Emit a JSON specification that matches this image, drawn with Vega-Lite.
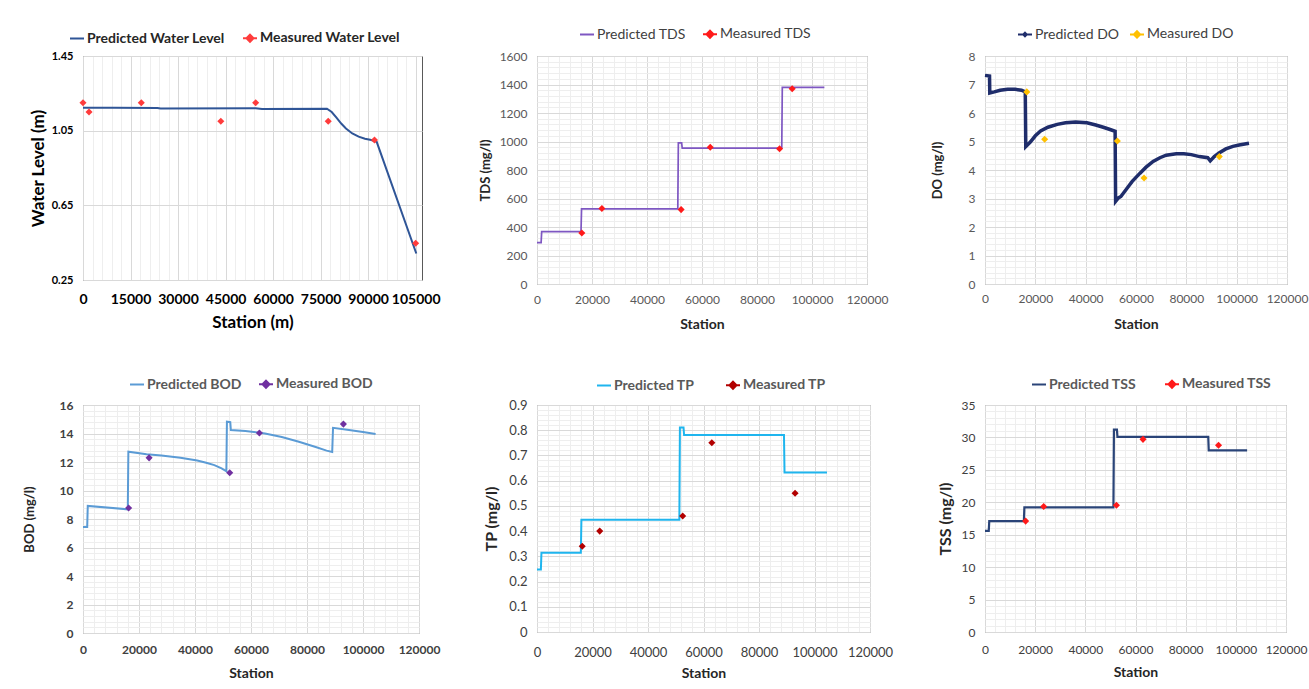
{
  "$schema": "https://vega.github.io/schema/vega-lite/v6.json",
  "background": "white",
  "padding": {"left": 22, "top": 25, "right": 5, "bottom": 5},
  "config": {
    "font": "Lato",
    "axis": {"ticks": false, "domain": false, "gridColor": "#d9d9d9", "labelFont": "Lato", "titleFont": "Lato", "labelFlush": false, "labelOverlap": false},
    "legend": {"labelFont": "Lato"}
  },
  "datasets": {
    "wl": [
      {"station": 0, "value": 1.173, "series": "Predicted Water Level"},
      {"station": 10000, "value": 1.173, "series": "Predicted Water Level"},
      {"station": 23500, "value": 1.172, "series": "Predicted Water Level"},
      {"station": 24500, "value": 1.169, "series": "Predicted Water Level"},
      {"station": 54500, "value": 1.170, "series": "Predicted Water Level"},
      {"station": 56500, "value": 1.166, "series": "Predicted Water Level"},
      {"station": 77000, "value": 1.168, "series": "Predicted Water Level"},
      {"station": 78500, "value": 1.150, "series": "Predicted Water Level"},
      {"station": 80000, "value": 1.120, "series": "Predicted Water Level"},
      {"station": 81500, "value": 1.088, "series": "Predicted Water Level"},
      {"station": 83000, "value": 1.062, "series": "Predicted Water Level"},
      {"station": 85000, "value": 1.035, "series": "Predicted Water Level"},
      {"station": 87000, "value": 1.018, "series": "Predicted Water Level"},
      {"station": 89000, "value": 1.007, "series": "Predicted Water Level"},
      {"station": 91000, "value": 1.000, "series": "Predicted Water Level"},
      {"station": 92700, "value": 0.990, "series": "Predicted Water Level"},
      {"station": 105200, "value": 0.392, "series": "Predicted Water Level"},
      {"station": 0, "value": 1.20, "series": "Measured Water Level"},
      {"station": 1900, "value": 1.15, "series": "Measured Water Level"},
      {"station": 18400, "value": 1.20, "series": "Measured Water Level"},
      {"station": 43500, "value": 1.10, "series": "Measured Water Level"},
      {"station": 54500, "value": 1.20, "series": "Measured Water Level"},
      {"station": 77400, "value": 1.10, "series": "Measured Water Level"},
      {"station": 92000, "value": 1.00, "series": "Measured Water Level"},
      {"station": 105000, "value": 0.447, "series": "Measured Water Level"}
    ],
    "tds": [
      {"station": 0, "value": 290, "series": "Predicted TDS"},
      {"station": 1500, "value": 290, "series": "Predicted TDS"},
      {"station": 1700, "value": 367, "series": "Predicted TDS"},
      {"station": 16000, "value": 367, "series": "Predicted TDS"},
      {"station": 16200, "value": 527, "series": "Predicted TDS"},
      {"station": 51200, "value": 527, "series": "Predicted TDS"},
      {"station": 51400, "value": 990, "series": "Predicted TDS"},
      {"station": 52600, "value": 990, "series": "Predicted TDS"},
      {"station": 52800, "value": 953, "series": "Predicted TDS"},
      {"station": 89000, "value": 953, "series": "Predicted TDS"},
      {"station": 89200, "value": 1380, "series": "Predicted TDS"},
      {"station": 104500, "value": 1380, "series": "Predicted TDS"},
      {"station": 16300, "value": 358, "series": "Measured TDS"},
      {"station": 23600, "value": 530, "series": "Measured TDS"},
      {"station": 52400, "value": 522, "series": "Measured TDS"},
      {"station": 63000, "value": 960, "series": "Measured TDS"},
      {"station": 88200, "value": 949, "series": "Measured TDS"},
      {"station": 92800, "value": 1370, "series": "Measured TDS"}
    ],
    "do": [
      {"station": 0, "value": 7.32, "series": "Predicted DO"},
      {"station": 1800, "value": 7.30, "series": "Predicted DO"},
      {"station": 1900, "value": 6.70, "series": "Predicted DO"},
      {"station": 3700, "value": 6.74, "series": "Predicted DO"},
      {"station": 6000, "value": 6.80, "series": "Predicted DO"},
      {"station": 9000, "value": 6.83, "series": "Predicted DO"},
      {"station": 12000, "value": 6.83, "series": "Predicted DO"},
      {"station": 14500, "value": 6.80, "series": "Predicted DO"},
      {"station": 16000, "value": 6.74, "series": "Predicted DO"},
      {"station": 16200, "value": 4.82, "series": "Predicted DO"},
      {"station": 18000, "value": 4.98, "series": "Predicted DO"},
      {"station": 20000, "value": 5.20, "series": "Predicted DO"},
      {"station": 22100, "value": 5.37, "series": "Predicted DO"},
      {"station": 25000, "value": 5.50, "series": "Predicted DO"},
      {"station": 28700, "value": 5.60, "series": "Predicted DO"},
      {"station": 32000, "value": 5.66, "series": "Predicted DO"},
      {"station": 36000, "value": 5.68, "series": "Predicted DO"},
      {"station": 40500, "value": 5.66, "series": "Predicted DO"},
      {"station": 44000, "value": 5.58, "series": "Predicted DO"},
      {"station": 47000, "value": 5.50, "series": "Predicted DO"},
      {"station": 49700, "value": 5.42, "series": "Predicted DO"},
      {"station": 51700, "value": 5.36, "series": "Predicted DO"},
      {"station": 51900, "value": 2.90, "series": "Predicted DO"},
      {"station": 53000, "value": 3.02, "series": "Predicted DO"},
      {"station": 54000, "value": 3.07, "series": "Predicted DO"},
      {"station": 56300, "value": 3.34, "series": "Predicted DO"},
      {"station": 58500, "value": 3.60, "series": "Predicted DO"},
      {"station": 61500, "value": 3.88, "series": "Predicted DO"},
      {"station": 64000, "value": 4.10, "series": "Predicted DO"},
      {"station": 66800, "value": 4.30, "series": "Predicted DO"},
      {"station": 69500, "value": 4.43, "series": "Predicted DO"},
      {"station": 72000, "value": 4.52, "series": "Predicted DO"},
      {"station": 76000, "value": 4.57, "series": "Predicted DO"},
      {"station": 79000, "value": 4.57, "series": "Predicted DO"},
      {"station": 82000, "value": 4.54, "series": "Predicted DO"},
      {"station": 85200, "value": 4.47, "series": "Predicted DO"},
      {"station": 88500, "value": 4.43, "series": "Predicted DO"},
      {"station": 89500, "value": 4.32, "series": "Predicted DO"},
      {"station": 91100, "value": 4.47, "series": "Predicted DO"},
      {"station": 93000, "value": 4.60, "series": "Predicted DO"},
      {"station": 95700, "value": 4.74, "series": "Predicted DO"},
      {"station": 98500, "value": 4.83, "series": "Predicted DO"},
      {"station": 101000, "value": 4.88, "series": "Predicted DO"},
      {"station": 104900, "value": 4.94, "series": "Predicted DO"},
      {"station": 16600, "value": 6.74, "series": "Measured DO"},
      {"station": 23700, "value": 5.08, "series": "Measured DO"},
      {"station": 52600, "value": 5.02, "series": "Measured DO"},
      {"station": 63200, "value": 3.72, "series": "Measured DO"},
      {"station": 93100, "value": 4.47, "series": "Measured DO"}
    ],
    "bod": [
      {"station": 0, "value": 7.44, "series": "Predicted BOD"},
      {"station": 1500, "value": 7.44, "series": "Predicted BOD"},
      {"station": 1700, "value": 8.92, "series": "Predicted BOD"},
      {"station": 16000, "value": 8.68, "series": "Predicted BOD"},
      {"station": 16200, "value": 12.72, "series": "Predicted BOD"},
      {"station": 22700, "value": 12.55, "series": "Predicted BOD"},
      {"station": 28000, "value": 12.45, "series": "Predicted BOD"},
      {"station": 34800, "value": 12.30, "series": "Predicted BOD"},
      {"station": 40800, "value": 12.10, "series": "Predicted BOD"},
      {"station": 44000, "value": 11.95, "series": "Predicted BOD"},
      {"station": 46900, "value": 11.78, "series": "Predicted BOD"},
      {"station": 49500, "value": 11.55, "series": "Predicted BOD"},
      {"station": 51200, "value": 11.35, "series": "Predicted BOD"},
      {"station": 51400, "value": 14.83, "series": "Predicted BOD"},
      {"station": 52600, "value": 14.80, "series": "Predicted BOD"},
      {"station": 52800, "value": 14.24, "series": "Predicted BOD"},
      {"station": 58000, "value": 14.18, "series": "Predicted BOD"},
      {"station": 65000, "value": 14.00, "series": "Predicted BOD"},
      {"station": 71000, "value": 13.75, "series": "Predicted BOD"},
      {"station": 77100, "value": 13.42, "series": "Predicted BOD"},
      {"station": 83100, "value": 13.05, "series": "Predicted BOD"},
      {"station": 87000, "value": 12.80, "series": "Predicted BOD"},
      {"station": 89000, "value": 12.70, "series": "Predicted BOD"},
      {"station": 89300, "value": 14.40, "series": "Predicted BOD"},
      {"station": 95000, "value": 14.25, "series": "Predicted BOD"},
      {"station": 100000, "value": 14.10, "series": "Predicted BOD"},
      {"station": 104500, "value": 13.96, "series": "Predicted BOD"},
      {"station": 16300, "value": 8.77, "series": "Measured BOD"},
      {"station": 23600, "value": 12.29, "series": "Measured BOD"},
      {"station": 52400, "value": 11.24, "series": "Measured BOD"},
      {"station": 63000, "value": 14.03, "series": "Measured BOD"},
      {"station": 93000, "value": 14.66, "series": "Measured BOD"}
    ],
    "tp": [
      {"station": 0, "value": 0.248, "series": "Predicted TP"},
      {"station": 1400, "value": 0.248, "series": "Predicted TP"},
      {"station": 1600, "value": 0.314, "series": "Predicted TP"},
      {"station": 15800, "value": 0.314, "series": "Predicted TP"},
      {"station": 16000, "value": 0.445, "series": "Predicted TP"},
      {"station": 51300, "value": 0.445, "series": "Predicted TP"},
      {"station": 51500, "value": 0.811, "series": "Predicted TP"},
      {"station": 52800, "value": 0.811, "series": "Predicted TP"},
      {"station": 53000, "value": 0.781, "series": "Predicted TP"},
      {"station": 89000, "value": 0.781, "series": "Predicted TP"},
      {"station": 89200, "value": 0.632, "series": "Predicted TP"},
      {"station": 104500, "value": 0.632, "series": "Predicted TP"},
      {"station": 16300, "value": 0.34, "series": "Measured TP"},
      {"station": 22600, "value": 0.40, "series": "Measured TP"},
      {"station": 52500, "value": 0.46, "series": "Measured TP"},
      {"station": 63000, "value": 0.75, "series": "Measured TP"},
      {"station": 93000, "value": 0.55, "series": "Measured TP"}
    ],
    "tss": [
      {"station": 0, "value": 15.6, "series": "Predicted TSS"},
      {"station": 1500, "value": 15.6, "series": "Predicted TSS"},
      {"station": 1700, "value": 17.1, "series": "Predicted TSS"},
      {"station": 15500, "value": 17.1, "series": "Predicted TSS"},
      {"station": 15700, "value": 19.2, "series": "Predicted TSS"},
      {"station": 51200, "value": 19.2, "series": "Predicted TSS"},
      {"station": 51400, "value": 31.2, "series": "Predicted TSS"},
      {"station": 52600, "value": 31.2, "series": "Predicted TSS"},
      {"station": 52800, "value": 30.1, "series": "Predicted TSS"},
      {"station": 89000, "value": 30.1, "series": "Predicted TSS"},
      {"station": 89200, "value": 28.0, "series": "Predicted TSS"},
      {"station": 104500, "value": 28.0, "series": "Predicted TSS"},
      {"station": 16200, "value": 17.1, "series": "Measured TSS"},
      {"station": 23400, "value": 19.35, "series": "Measured TSS"},
      {"station": 52400, "value": 19.55, "series": "Measured TSS"},
      {"station": 63000, "value": 29.7, "series": "Measured TSS"},
      {"station": 93100, "value": 28.8, "series": "Measured TSS"}
    ]
  },
  "columns": 3,
  "align": "none",
  "bounds": "flush",
  "spacing": {"row": 121, "column": 115},
  "resolve": {"scale": {"x": "independent", "y": "independent", "color": "independent"}, "legend": {"color": "independent"}, "axis": {"x": "independent", "y": "independent"}},
  "concat": [
    {
      "width": 339, "height": 224,
      "view": {"stroke": "#595959"},
      "data": {"name": "wl"},
      "layer": [
        {
          "mark": {"type": "line", "strokeWidth": 2},
          "transform": [{"filter": "datum.series === 'Predicted Water Level'"}],
          "encoding": {
            "x": {"field": "station", "type": "quantitative", "scale": {"domain": [0, 107000], "nice": false},
              "axis": {"values": [0, 15000, 30000, 45000, 60000, 75000, 90000, 105000], "format": "d", "labelFontSize": 14, "labelFontWeight": "bold", "labelColor": "#000000", "labelPadding": 12, "title": "Station (m)", "titleFontSize": 17, "titleFontWeight": "bold", "titleColor": "#000000", "titlePadding": 7, "minExtent": 27, "maxExtent": 27}},
            "y": {"field": "value", "type": "quantitative", "scale": {"domain": [0.25, 1.45], "nice": false, "zero": false},
              "axis": {"values": [0.25, 0.65, 1.05, 1.45], "format": ".2f", "labelFontSize": 11, "labelFontWeight": "bold", "labelColor": "#000000", "labelPadding": 10, "title": "Water Level (m)", "titleFontSize": 17, "titleFontWeight": "bold", "titleColor": "#000000", "titlePadding": 6, "minExtent": 30, "maxExtent": 30}},
            "color": {"field": "series", "type": "nominal", "scale": {"domain": ["Predicted Water Level", "Measured Water Level"], "range": ["#2f5597", "#ff3c3c"]},
              "legend": {"orient": "none", "legendX": -14, "legendY": -26, "direction": "horizontal", "title": null, "labelFontSize": 14, "labelFontWeight": "bold", "labelColor": "#262626", "columnPadding": 14, "labelOffset": 2, "symbolSize": 196, "symbolStrokeWidth": 2,
                "encode": {"symbols": {"update": {
                  "shape": {"signal": "datum.index === 0 ? 'M-1,0L1,0' : 'M-1,0L1,0M0,-0.5L0.5,0L0,0.5L-0.5,0Z'"},
                  "fill": {"signal": "datum.index === 0 ? '#2f5597' : '#ff3c3c'"},
                  "stroke": {"signal": "datum.index === 0 ? '#2f5597' : '#ff3c3c'"},
                  "strokeWidth": {"value": 2}, "size": {"value": 196}, "opacity": {"value": 1}}}}}}
          }
        },
        {
          "mark": {"type": "point", "shape": "diamond", "filled": true, "size": 50, "opacity": 1},
          "transform": [{"filter": "datum.series === 'Measured Water Level'"}],
          "encoding": {
            "x": {"field": "station", "type": "quantitative",
              "axis": {"orient": "bottom", "values": [3000, 6000, 9000, 12000, 18000, 21000, 24000, 27000, 33000, 36000, 39000, 42000, 48000, 51000, 54000, 57000, 63000, 66000, 69000, 72000, 78000, 81000, 84000, 87000, 93000, 96000, 99000, 102000], "labels": false, "grid": true, "gridColor": "#eeeeee", "title": null}},
            "y": {"field": "value", "type": "quantitative", "axis": null},
            "color": {"field": "series", "type": "nominal"}
          }
        }
      ],
      "resolve": {"axis": {"x": "independent", "y": "independent"}}
    },
    {
      "width": 330, "height": 228,
      "view": {"stroke": "#7f7f7f"},
      "data": {"name": "tds"},
      "layer": [
        {
          "mark": {"type": "line", "strokeWidth": 1.7},
          "transform": [{"filter": "datum.series === 'Predicted TDS'"}],
          "encoding": {
            "x": {"field": "station", "type": "quantitative", "scale": {"domain": [0, 120000], "nice": false},
              "axis": {"values": [0, 20000, 40000, 60000, 80000, 100000, 120000], "format": "d", "labelFontSize": 12, "labelColor": "#595959", "labelPadding": 10, "title": "Station", "titleFontSize": 14, "titleFontWeight": "bold", "titleColor": "#262626", "titlePadding": 9, "minExtent": 24, "maxExtent": 24}},
            "y": {"field": "value", "type": "quantitative", "scale": {"domain": [0, 1600], "nice": false},
              "axis": {"values": [0, 200, 400, 600, 800, 1000, 1200, 1400, 1600], "format": "d", "labelFontSize": 12, "labelColor": "#595959", "labelPadding": 10, "title": "TDS (mg/l)", "titleFontSize": 13, "titleFontWeight": "bold", "titleColor": "#262626", "titlePadding": 8, "minExtent": 37, "maxExtent": 37}},
            "color": {"field": "series", "type": "nominal", "scale": {"domain": ["Predicted TDS", "Measured TDS"], "range": ["#7e57c2", "#ff1a1a"]},
              "legend": {"orient": "none", "legendX": 42, "legendY": -30, "direction": "horizontal", "title": null, "labelFontSize": 14, "labelColor": "#404040", "columnPadding": 13, "labelOffset": 2, "symbolSize": 196, "symbolStrokeWidth": 2,
                "encode": {"symbols": {"update": {
                  "shape": {"signal": "datum.index === 0 ? 'M-1,0L1,0' : 'M-1,0L1,0M0,-0.5L0.5,0L0,0.5L-0.5,0Z'"},
                  "fill": {"signal": "datum.index === 0 ? '#7e57c2' : '#ff1a1a'"},
                  "stroke": {"signal": "datum.index === 0 ? '#7e57c2' : '#ff1a1a'"},
                  "strokeWidth": {"value": 2}, "size": {"value": 196}, "opacity": {"value": 1}}}}}}
          }
        },
        {
          "mark": {"type": "point", "shape": "diamond", "filled": true, "size": 50, "opacity": 1},
          "transform": [{"filter": "datum.series === 'Measured TDS'"}],
          "encoding": {
            "x": {"field": "station", "type": "quantitative",
              "axis": {"orient": "bottom", "values": [4000, 8000, 12000, 16000, 24000, 28000, 32000, 36000, 44000, 48000, 52000, 56000, 64000, 68000, 72000, 76000, 84000, 88000, 92000, 96000, 104000, 108000, 112000, 116000], "labels": false, "grid": true, "gridColor": "#eeeeee", "title": null}},
            "y": {"field": "value", "type": "quantitative",
              "axis": {"orient": "left", "values": [40, 80, 120, 160, 240, 280, 320, 360, 440, 480, 520, 560, 640, 680, 720, 760, 840, 880, 920, 960, 1040, 1080, 1120, 1160, 1240, 1280, 1320, 1360, 1440, 1480, 1520, 1560], "labels": false, "grid": true, "gridColor": "#eeeeee", "title": null}},
            "color": {"field": "series", "type": "nominal"}
          }
        }
      ],
      "resolve": {"axis": {"x": "independent", "y": "independent"}}
    },
    {
      "width": 302, "height": 228,
      "view": {"stroke": "#7f7f7f"},
      "data": {"name": "do"},
      "layer": [
        {
          "mark": {"type": "line", "strokeWidth": 3.5},
          "transform": [{"filter": "datum.series === 'Predicted DO'"}],
          "encoding": {
            "x": {"field": "station", "type": "quantitative", "scale": {"domain": [0, 120000], "nice": false},
              "axis": {"values": [0, 20000, 40000, 60000, 80000, 100000, 120000], "format": "d", "labelFontSize": 12, "labelColor": "#595959", "labelPadding": 9, "title": "Station", "titleFontSize": 14, "titleFontWeight": "bold", "titleColor": "#262626", "titlePadding": 9, "minExtent": 24, "maxExtent": 24}},
            "y": {"field": "value", "type": "quantitative", "scale": {"domain": [0, 8], "nice": false},
              "axis": {"values": [0, 1, 2, 3, 4, 5, 6, 7, 8], "format": "d", "labelFontSize": 12, "labelColor": "#595959", "labelPadding": 10, "title": "DO (mg/l)", "titleFontSize": 13, "titleFontWeight": "bold", "titleColor": "#262626", "titlePadding": 8, "minExtent": 33, "maxExtent": 33}},
            "color": {"field": "series", "type": "nominal", "scale": {"domain": ["Predicted DO", "Measured DO"], "range": ["#1f2d6b", "#ffc000"]},
              "legend": {"orient": "none", "legendX": 32, "legendY": -30, "direction": "horizontal", "title": null, "labelFontSize": 14, "labelColor": "#404040", "columnPadding": 6, "labelOffset": 2, "symbolSize": 196, "symbolStrokeWidth": 2,
                "encode": {"symbols": {"update": {
                  "shape": {"signal": "datum.index === 0 ? 'M-1,0L1,0M0,-0.25L0.25,0L0,0.25L-0.25,0Z' : 'M-1,0L1,0M0,-0.45L0.45,0L0,0.45L-0.45,0Z'"},
                  "fill": {"signal": "datum.index === 0 ? '#1f2d6b' : '#ffc000'"},
                  "stroke": {"signal": "datum.index === 0 ? '#1f2d6b' : '#ffc000'"},
                  "strokeWidth": {"value": 2}, "size": {"value": 196}, "opacity": {"value": 1}}}}}}
          }
        },
        {
          "mark": {"type": "point", "shape": "diamond", "filled": true, "size": 50, "opacity": 1},
          "transform": [{"filter": "datum.series === 'Measured DO'"}],
          "encoding": {
            "x": {"field": "station", "type": "quantitative",
              "axis": {"orient": "bottom", "values": [4000, 8000, 12000, 16000, 24000, 28000, 32000, 36000, 44000, 48000, 52000, 56000, 64000, 68000, 72000, 76000, 84000, 88000, 92000, 96000, 104000, 108000, 112000, 116000], "labels": false, "grid": true, "gridColor": "#eeeeee", "title": null}},
            "y": {"field": "value", "type": "quantitative",
              "axis": {"orient": "left", "values": [0.2, 0.4, 0.6, 0.8, 1.2, 1.4, 1.6, 1.8, 2.2, 2.4, 2.6, 2.8, 3.2, 3.4, 3.6, 3.8, 4.2, 4.4, 4.6, 4.8, 5.2, 5.4, 5.6, 5.8, 6.2, 6.4, 6.6, 6.8, 7.2, 7.4, 7.6, 7.8], "labels": false, "grid": true, "gridColor": "#eeeeee", "title": null}},
            "color": {"field": "series", "type": "nominal"}
          }
        }
      ],
      "resolve": {"axis": {"x": "independent", "y": "independent"}}
    },
    {
      "width": 336, "height": 228,
      "view": {"stroke": "#7f7f7f"},
      "data": {"name": "bod"},
      "layer": [
        {
          "mark": {"type": "line", "strokeWidth": 2},
          "transform": [{"filter": "datum.series === 'Predicted BOD'"}],
          "encoding": {
            "x": {"field": "station", "type": "quantitative", "scale": {"domain": [0, 120000], "nice": false},
              "axis": {"values": [0, 20000, 40000, 60000, 80000, 100000, 120000], "format": "d", "labelFontSize": 12, "labelFontWeight": "bold", "labelColor": "#404040", "labelPadding": 11, "title": "Station", "titleFontSize": 14, "titleFontWeight": "bold", "titleColor": "#262626", "titlePadding": 8, "minExtent": 25, "maxExtent": 25}},
            "y": {"field": "value", "type": "quantitative", "scale": {"domain": [0, 16], "nice": false},
              "axis": {"values": [0, 2, 4, 6, 8, 10, 12, 14, 16], "format": "d", "labelFontSize": 12, "labelFontWeight": "bold", "labelColor": "#404040", "labelPadding": 10, "title": "BOD (mg/l)", "titleFontSize": 13, "titleFontWeight": "bold", "titleColor": "#262626", "titlePadding": 9, "minExtent": 38, "maxExtent": 38}},
            "color": {"field": "series", "type": "nominal", "scale": {"domain": ["Predicted BOD", "Measured BOD"], "range": ["#5b9bd5", "#7030a0"]},
              "legend": {"orient": "none", "legendX": 46, "legendY": -29, "direction": "horizontal", "title": null, "labelFontSize": 14, "labelFontWeight": "bold", "labelColor": "#595959", "columnPadding": 13, "labelOffset": 2, "symbolSize": 196, "symbolStrokeWidth": 2,
                "encode": {"symbols": {"update": {
                  "shape": {"signal": "datum.index === 0 ? 'M-1,0L1,0' : 'M-1,0L1,0M0,-0.5L0.5,0L0,0.5L-0.5,0Z'"},
                  "fill": {"signal": "datum.index === 0 ? '#5b9bd5' : '#7030a0'"},
                  "stroke": {"signal": "datum.index === 0 ? '#5b9bd5' : '#7030a0'"},
                  "strokeWidth": {"value": 2}, "size": {"value": 196}, "opacity": {"value": 1}}}}}}
          }
        },
        {
          "mark": {"type": "point", "shape": "diamond", "filled": true, "size": 50, "opacity": 1},
          "transform": [{"filter": "datum.series === 'Measured BOD'"}],
          "encoding": {
            "x": {"field": "station", "type": "quantitative",
              "axis": {"orient": "bottom", "values": [4000, 8000, 12000, 16000, 24000, 28000, 32000, 36000, 44000, 48000, 52000, 56000, 64000, 68000, 72000, 76000, 84000, 88000, 92000, 96000, 104000, 108000, 112000, 116000], "labels": false, "grid": true, "gridColor": "#eeeeee", "title": null}},
            "y": {"field": "value", "type": "quantitative",
              "axis": {"orient": "left", "values": [0.4, 0.8, 1.2, 1.6, 2.4, 2.8, 3.2, 3.6, 4.4, 4.8, 5.2, 5.6, 6.4, 6.8, 7.2, 7.6, 8.4, 8.8, 9.2, 9.6, 10.4, 10.8, 11.2, 11.6, 12.4, 12.8, 13.2, 13.6, 14.4, 14.8, 15.2, 15.6], "labels": false, "grid": true, "gridColor": "#eeeeee", "title": null}},
            "color": {"field": "series", "type": "nominal"}
          }
        }
      ],
      "resolve": {"axis": {"x": "independent", "y": "independent"}}
    },
    {
      "width": 333, "height": 227,
      "view": {"stroke": "#7f7f7f"},
      "data": {"name": "tp"},
      "layer": [
        {
          "mark": {"type": "line", "strokeWidth": 2},
          "transform": [{"filter": "datum.series === 'Predicted TP'"}],
          "encoding": {
            "x": {"field": "station", "type": "quantitative", "scale": {"domain": [0, 120000], "nice": false},
              "axis": {"values": [0, 20000, 40000, 60000, 80000, 100000, 120000], "format": "d", "labelFontSize": 13, "labelColor": "#404040", "labelPadding": 14, "title": "Station", "titleFontSize": 14, "titleFontWeight": "bold", "titleColor": "#262626", "titlePadding": 5, "minExtent": 29, "maxExtent": 29}},
            "y": {"field": "value", "type": "quantitative", "scale": {"domain": [0, 0.9], "nice": false},
              "axis": {"values": [0, 0.1, 0.2, 0.3, 0.4, 0.5, 0.6, 0.7, 0.8, 0.9], "labelExpr": "datum.value == 0 ? '0' : format(datum.value, '.1f')", "labelFontSize": 13, "labelColor": "#404040", "labelPadding": 10, "title": "TP (mg/l)", "titleFontSize": 16, "titleFontWeight": "bold", "titleColor": "#262626", "titlePadding": 6, "minExtent": 32, "maxExtent": 32}},
            "color": {"field": "series", "type": "nominal", "scale": {"domain": ["Predicted TP", "Measured TP"], "range": ["#1fb5ee", "#b20000"]},
              "legend": {"orient": "none", "legendX": 59, "legendY": -28, "direction": "horizontal", "title": null, "labelFontSize": 14, "labelFontWeight": "bold", "labelColor": "#595959", "columnPadding": 27, "labelOffset": 2, "symbolSize": 196, "symbolStrokeWidth": 2,
                "encode": {"symbols": {"update": {
                  "shape": {"signal": "datum.index === 0 ? 'M-1,0L1,0' : 'M-1,0L1,0M0,-0.5L0.5,0L0,0.5L-0.5,0Z'"},
                  "fill": {"signal": "datum.index === 0 ? '#1fb5ee' : '#b20000'"},
                  "stroke": {"signal": "datum.index === 0 ? '#1fb5ee' : '#b20000'"},
                  "strokeWidth": {"value": 2}, "size": {"value": 196}, "opacity": {"value": 1}}}}}}
          }
        },
        {
          "mark": {"type": "point", "shape": "diamond", "filled": true, "size": 50, "opacity": 1},
          "transform": [{"filter": "datum.series === 'Measured TP'"}],
          "encoding": {
            "x": {"field": "station", "type": "quantitative",
              "axis": {"orient": "bottom", "values": [4000, 8000, 12000, 16000, 24000, 28000, 32000, 36000, 44000, 48000, 52000, 56000, 64000, 68000, 72000, 76000, 84000, 88000, 92000, 96000, 104000, 108000, 112000, 116000], "labels": false, "grid": true, "gridColor": "#eeeeee", "title": null}},
            "y": {"field": "value", "type": "quantitative",
              "axis": {"orient": "left", "values": [0.02, 0.04, 0.06, 0.08, 0.12, 0.14, 0.16, 0.18, 0.22, 0.24, 0.26, 0.28, 0.32, 0.34, 0.36, 0.38, 0.42, 0.44, 0.46, 0.48, 0.52, 0.54, 0.56, 0.58, 0.62, 0.64, 0.66, 0.68, 0.72, 0.74, 0.76, 0.78, 0.82, 0.84, 0.86, 0.88], "labels": false, "grid": true, "gridColor": "#eeeeee", "title": null}},
            "color": {"field": "series", "type": "nominal"}
          }
        }
      ],
      "resolve": {"axis": {"x": "independent", "y": "independent"}}
    },
    {
      "width": 301, "height": 227,
      "view": {"stroke": "#7f7f7f"},
      "data": {"name": "tss"},
      "layer": [
        {
          "mark": {"type": "line", "strokeWidth": 2.2},
          "transform": [{"filter": "datum.series === 'Predicted TSS'"}],
          "encoding": {
            "x": {"field": "station", "type": "quantitative", "scale": {"domain": [0, 120000], "nice": false},
              "axis": {"values": [0, 20000, 40000, 60000, 80000, 100000, 120000], "format": "d", "labelFontSize": 12, "labelColor": "#404040", "labelPadding": 12, "title": "Station", "titleFontSize": 14, "titleFontWeight": "bold", "titleColor": "#262626", "titlePadding": 7, "minExtent": 26, "maxExtent": 26}},
            "y": {"field": "value", "type": "quantitative", "scale": {"domain": [0, 35], "nice": false},
              "axis": {"values": [0, 5, 10, 15, 20, 25, 30, 35], "format": "d", "labelFontSize": 12, "labelColor": "#404040", "labelPadding": 10, "title": "TSS (mg/l)", "titleFontSize": 16, "titleFontWeight": "bold", "titleColor": "#262626", "titlePadding": 6, "minExtent": 26, "maxExtent": 26}},
            "color": {"field": "series", "type": "nominal", "scale": {"domain": ["Predicted TSS", "Measured TSS"], "range": ["#2a4478", "#ff1a1a"]},
              "legend": {"orient": "none", "legendX": 46, "legendY": -29, "direction": "horizontal", "title": null, "labelFontSize": 14, "labelFontWeight": "bold", "labelColor": "#595959", "columnPadding": 24, "labelOffset": 2, "symbolSize": 196, "symbolStrokeWidth": 2,
                "encode": {"symbols": {"update": {
                  "shape": {"signal": "datum.index === 0 ? 'M-1,0L1,0' : 'M-1,0L1,0M0,-0.5L0.5,0L0,0.5L-0.5,0Z'"},
                  "fill": {"signal": "datum.index === 0 ? '#2a4478' : '#ff1a1a'"},
                  "stroke": {"signal": "datum.index === 0 ? '#2a4478' : '#ff1a1a'"},
                  "strokeWidth": {"value": 2}, "size": {"value": 196}, "opacity": {"value": 1}}}}}}
          }
        },
        {
          "mark": {"type": "point", "shape": "diamond", "filled": true, "size": 50, "opacity": 1},
          "transform": [{"filter": "datum.series === 'Measured TSS'"}],
          "encoding": {
            "x": {"field": "station", "type": "quantitative",
              "axis": {"orient": "bottom", "values": [4000, 8000, 12000, 16000, 24000, 28000, 32000, 36000, 44000, 48000, 52000, 56000, 64000, 68000, 72000, 76000, 84000, 88000, 92000, 96000, 104000, 108000, 112000, 116000], "labels": false, "grid": true, "gridColor": "#eeeeee", "title": null}},
            "y": {"field": "value", "type": "quantitative",
              "axis": {"orient": "left", "values": [1, 2, 3, 4, 6, 7, 8, 9, 11, 12, 13, 14, 16, 17, 18, 19, 21, 22, 23, 24, 26, 27, 28, 29, 31, 32, 33, 34], "labels": false, "grid": true, "gridColor": "#eeeeee", "title": null}},
            "color": {"field": "series", "type": "nominal"}
          }
        }
      ],
      "resolve": {"axis": {"x": "independent", "y": "independent"}}
    }
  ]
}
